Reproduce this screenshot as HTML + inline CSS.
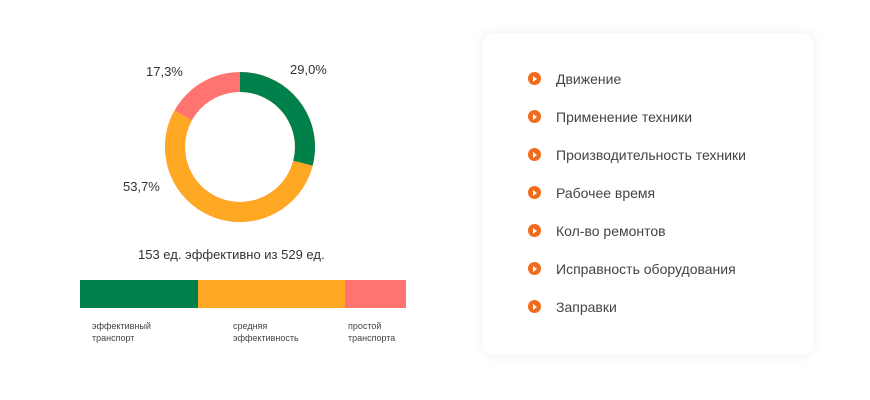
<!DOCTYPE html>
<html><head><meta charset="utf-8"><style>
body{margin:0;width:870px;height:400px;background:#fff;position:relative;font-family:"Liberation Sans",sans-serif;overflow:hidden}
.a{position:absolute}
.p{font-size:13px;color:#333}
.s{font-size:9px;color:#444;line-height:12px}
.card{left:483px;top:33px;width:330px;height:322px;border-radius:10px;background:#fff;box-shadow:0 0 12px rgba(0,0,0,0.07)}
.it{position:absolute;left:73px;font-size:14px;color:#444}
.ic{position:absolute;left:-28px;top:1px;width:13px;height:13px;border-radius:50%;background:#f26b1d}
.ic:after{content:"";position:absolute;left:5px;top:3.5px;border-left:4px solid #fff;border-top:3px solid transparent;border-bottom:3px solid transparent}
</style></head><body>
<svg class="a" style="left:0;top:0" width="480" height="400">
<g transform="rotate(-90 240 147)" fill="none" stroke-width="20">
<circle cx="240" cy="147" r="65" stroke="#ff7370"/>
<circle cx="240" cy="147" r="65" stroke="#ffa824" stroke-dasharray="339.3 1000"/>
<circle cx="240" cy="147" r="65" stroke="#00804b" stroke-dasharray="118.4 1000"/>
</g>
<rect x="80" y="280" width="118" height="28" fill="#00804b"/>
<rect x="198" y="280" width="147" height="28" fill="#ffa824"/>
<rect x="345" y="280" width="61" height="28" fill="#ff7370"/>
</svg>
<div class="a p" style="left:290px;top:62px">29,0%</div>
<div class="a p" style="left:146px;top:64px">17,3%</div>
<div class="a p" style="left:123px;top:179px">53,7%</div>
<div class="a p" style="left:138px;top:247px">153 ед. эффективно из 529 ед.</div>
<div class="a s" style="left:92px;top:320px">эффективный<br>транспорт</div>
<div class="a s" style="left:233px;top:320px">средняя<br>эффективность</div>
<div class="a s" style="left:348px;top:320px">простой<br>транспорта</div>
<div class="a card">
<div class="it" style="top:38px"><span class="ic"></span>Движение</div>
<div class="it" style="top:76px"><span class="ic"></span>Применение техники</div>
<div class="it" style="top:114px"><span class="ic"></span>Производительность техники</div>
<div class="it" style="top:152px"><span class="ic"></span>Рабочее время</div>
<div class="it" style="top:190px"><span class="ic"></span>Кол-во ремонтов</div>
<div class="it" style="top:228px"><span class="ic"></span>Исправность оборудования</div>
<div class="it" style="top:266px"><span class="ic"></span>Заправки</div>
</div>
</body></html>
